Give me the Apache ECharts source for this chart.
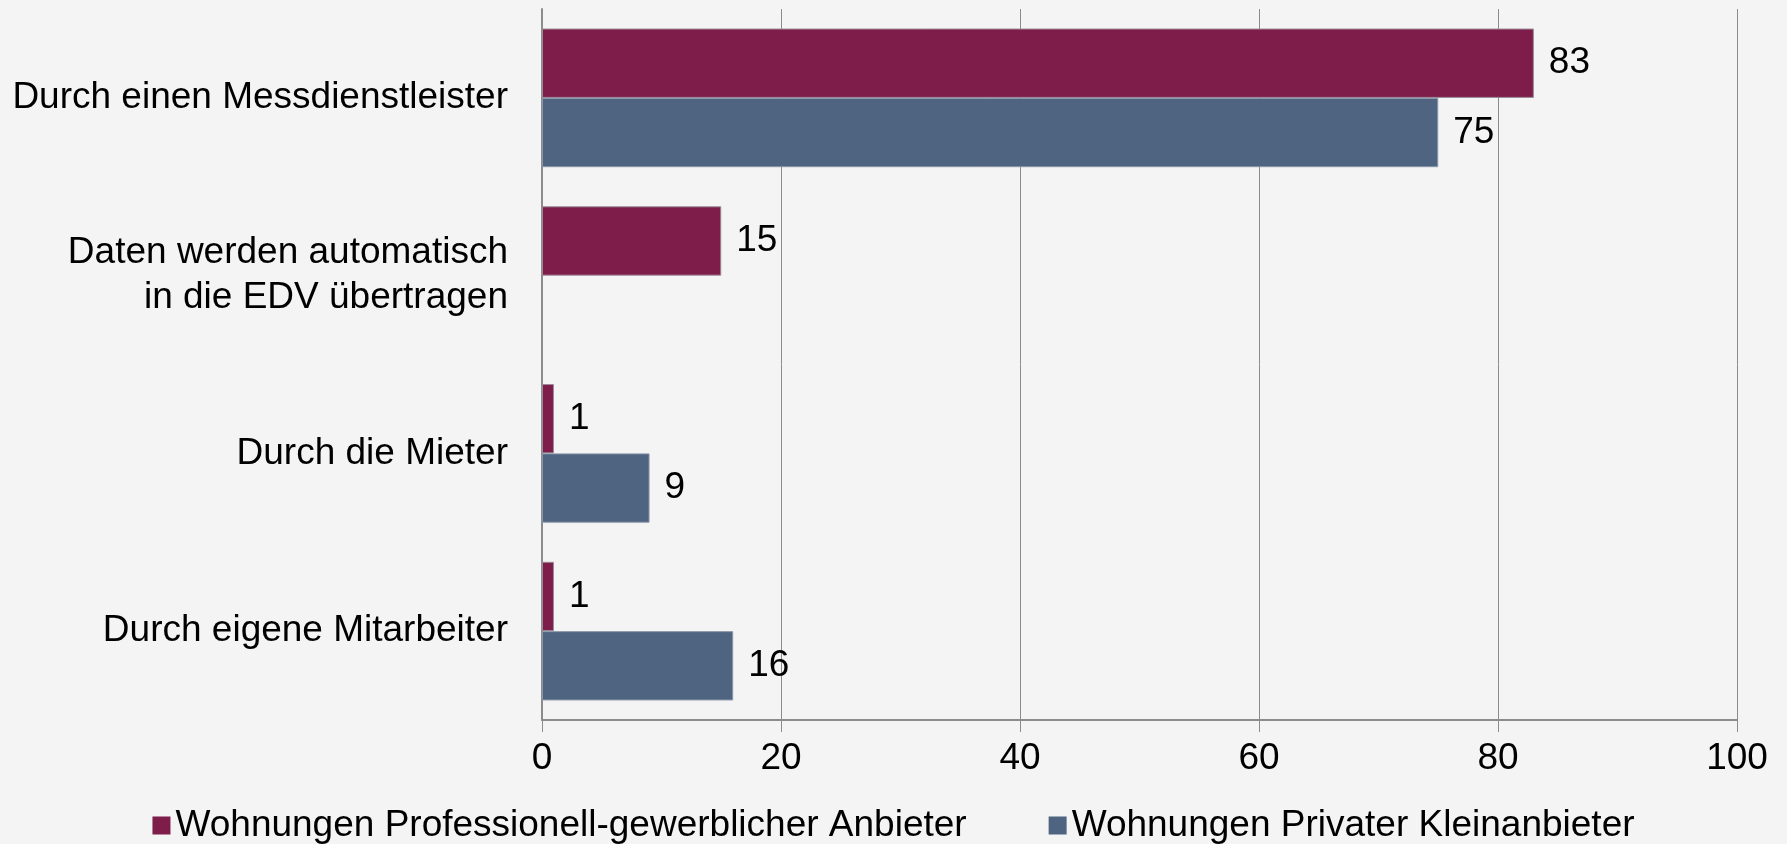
<!DOCTYPE html>
<html>
<head>
<meta charset="utf-8">
<script src="https://cdn.jsdelivr.net/npm/echarts@6/dist/echarts.min.js"></script>
<style>
  html, body { margin: 0; padding: 0; background: #f4f4f4; }
  #chart { width: 1787px; height: 844px; }
</style>
</head>
<body>
<div id="chart"></div>
<script>
var categories = [
    'Durch einen Messdienstleister',
    'Daten werden automatisch\nin die EDV übertragen',
    'Durch die Mieter',
    'Durch eigene Mitarbeiter'
];
var seriesNames = [
    'Wohnungen Professionell-gewerblicher Anbieter',
    'Wohnungen Privater Kleinanbieter'
];
var profValues = [83, 15, 1, 1];
var privValues = [75, null, 9, 16];
var xTicks = [0, 20, 40, 60, 80, 100];

var font = 'Liberation Sans, Arial, sans-serif';
var gridColor = '#8c8c8c';

var myChart = echarts.init(document.getElementById('chart'));

function barLabel() {
    return {
        show: true,
        position: 'right',
        distance: 15,
        color: '#000',
        fontFamily: font,
        fontSize: 37
    };
}

var option = {
    backgroundColor: '#f4f4f4',
    animation: false,
    grid: { left: 542, right: 50, top: 9, bottom: 124, containLabel: false },
    legend: {
        top: 802,
        left: 'center',
        icon: 'rect',
        itemWidth: 18,
        itemHeight: 18,
        itemGap: 82,
        itemStyle: { borderWidth: 0 },
        textStyle: { color: '#000', fontFamily: font, fontSize: 37 },
        data: seriesNames
    },
    xAxis: {
        type: 'value',
        min: xTicks[0],
        max: xTicks[xTicks.length - 1],
        interval: xTicks[1] - xTicks[0],
        axisLine: { show: true, lineStyle: { color: gridColor, width: 2 } },
        axisTick: { show: true, length: 12, lineStyle: { color: gridColor } },
        axisLabel: { color: '#000', fontFamily: font, fontSize: 37, margin: 20 },
        splitLine: { show: true, lineStyle: { color: gridColor, width: 1 } }
    },
    yAxis: {
        type: 'category',
        inverse: true,
        data: categories,
        axisLine: { show: true, lineStyle: { color: gridColor, width: 2 } },
        axisTick: { show: false },
        axisLabel: {
            color: '#000', fontFamily: font, fontSize: 37,
            margin: 34, lineHeight: 45, align: 'right'
        }
    },
    series: [
        {
            name: seriesNames[0],
            type: 'bar',
            data: profValues,
            barGap: 0,
            barCategoryGap: '22%',
            itemStyle: { color: '#7e1c4a', borderColor: '#9a8a96', borderWidth: 1 },
            label: barLabel()
        },
        {
            name: seriesNames[1],
            type: 'bar',
            data: privValues,
            barGap: 0,
            barCategoryGap: '22%',
            itemStyle: { color: '#4f6480', borderColor: '#8a96a8', borderWidth: 1 },
            label: barLabel()
        }
    ]
};

myChart.setOption(option);
window.addEventListener('resize', function () {
    myChart.resize();
});
</script>
</body>
</html>
